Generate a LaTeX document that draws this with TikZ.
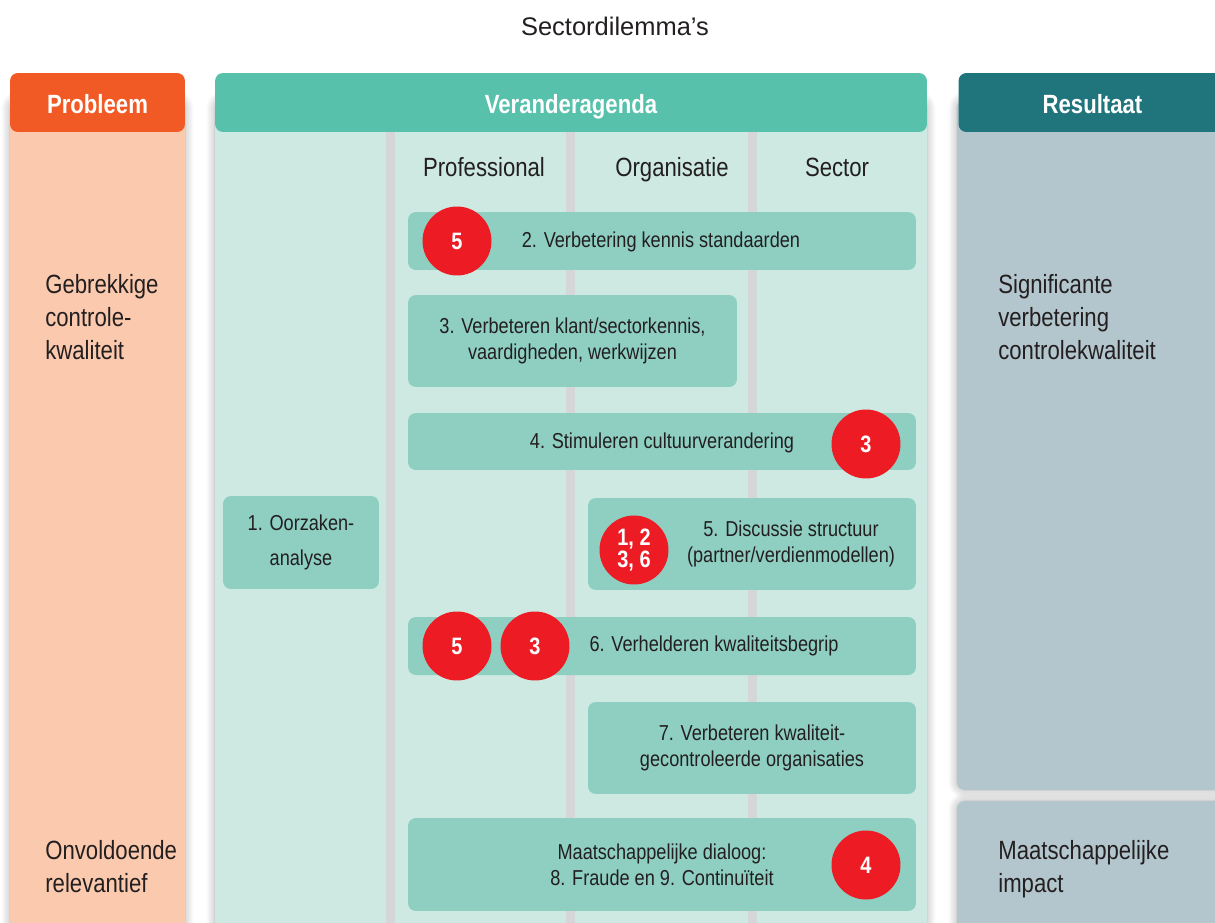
\documentclass[tikz,border=0pt]{standalone}
\usepackage{fontspec}
\setmainfont{Liberation Sans}[FakeStretch=0.84]
\newfontfamily\titlefont{Liberation Sans}
\usetikzlibrary{shadows.blur}
\definecolor{oranje}{HTML}{F15A24}
\definecolor{lichtoranje}{HTML}{FBCAAE}
\definecolor{groen}{HTML}{57C1AC}
\definecolor{lichtgroen}{HTML}{CDE9E1}
\definecolor{middengroen}{HTML}{8ECFC2}
\definecolor{donkerteal}{HTML}{20757D}
\definecolor{blauwgrijs}{HTML}{B4C6CD}
\definecolor{rood}{HTML}{ED1C24}
\definecolor{scheiding}{HTML}{D4D6D8}
\definecolor{tekst}{HTML}{231F20}
\begin{document}
\begin{tikzpicture}[x=0.02cm, y=-0.02cm,
  kolom/.style={rounded corners=4.5pt, blur shadow={shadow blur steps=6, shadow xshift=0pt, shadow yshift=0pt, shadow blur radius=5pt, shadow opacity=35}},
  kop/.style={rounded corners=4.5pt, text=white, font=\bfseries\fontsize{15}{18}\selectfont, minimum height=1.18cm, inner sep=0pt, text height=13pt, text depth=0pt},
  blok/.style={fill=middengroen, rounded corners=4.5pt, inner sep=0pt, align=center, text=tekst, font=\fontsize{12.3}{14.7}\selectfont},
  bloktekst/.style={text=tekst, align=center, inner sep=0pt, font=\fontsize{12.3}{14.7}\selectfont},
  nummer/.style={circle, fill=rood, minimum size=1.38cm, inner sep=0pt, align=center, text=white, font=\bfseries\fontsize{13.5}{13}\selectfont},
  kolomkop/.style={anchor=base, text=tekst, font=\fontsize{15}{18}\selectfont, inner sep=0pt},
  zijtekst/.style={anchor=north west, align=left, inner sep=0pt, text=tekst, font=\fontsize{15}{18.7}\selectfont}]
\useasboundingbox (0,0) rectangle (1215,923);
\clip (0,0) rectangle (1215,923);

% kolommen
\path[kolom, fill=lichtoranje] (10,100) rectangle (185,960);
\path[kolom, fill=lichtgroen] (215,100) rectangle (927,960);
\path[kolom, fill=blauwgrijs] (957,100) rectangle (1240,790);
\path[kolom, fill=blauwgrijs] (957,801) rectangle (1240,960);

% scheidingslijnen
\foreach \x in {386,566,748}
  \fill[scheiding] (\x,132) rectangle (\x+9,960);

% koppen
\node[kop, fill=oranje, minimum width=3.5cm] (probleem) at (97.5,102.5) {Probleem};
\node[kop, fill=groen, minimum width=14.24cm] (agenda) at (571,102.5) {Veranderagenda};
\node[kop, fill=donkerteal, minimum width=5.66cm, text width=5.36cm, align=center] (resultaat) at (1100,102.5) {\hspace*{-0.3cm}Resultaat};
\node[text=tekst, font=\titlefont\fontsize{14.5}{16}\selectfont] (titel) at (615,26) {Sectordilemma’s};

\node[kolomkop] (professional) at (484,176) {Professional};
\node[kolomkop] (organisatie) at (672,176) {Organisatie};
\node[kolomkop] (sector) at (837,176) {Sector};

% blokken
\node[blok, minimum width=10.16cm, minimum height=1.16cm] (b2) at (662,241) {};
\node[bloktekst] (t2) at (661,242) {2. Verbetering kennis standaarden};
\node[blok, minimum width=6.58cm, minimum height=1.84cm] (b3) at (572.5,341) {3. Verbeteren klant/sectorkennis,\\vaardigheden, werkwijzen};
\node[blok, minimum width=10.16cm, minimum height=1.14cm] (b4) at (662,441.5) {};
\node[bloktekst] (t4) at (662,443) {4. Stimuleren cultuurverandering};
\node[blok, minimum width=3.12cm, minimum height=1.86cm, font=\fontsize{12.3}{19.5}\selectfont] (b1) at (301,542.5) {1. Oorzaken-\\analyse};
\node[blok, minimum width=6.56cm, minimum height=1.84cm] (b5) at (752,544) {};
\node[bloktekst] (t5) at (791,544) {5. Discussie structuur\\(partner/verdienmodellen)};
\node[blok, minimum width=10.16cm, minimum height=1.16cm] (b6) at (662,646) {};
\node[bloktekst] (t6) at (714,646) {6. Verhelderen kwaliteitsbegrip};
\node[blok, minimum width=6.56cm, minimum height=1.84cm] (b7) at (752,748) {7. Verbeteren kwaliteit-\\gecontroleerde organisaties};
\node[blok, minimum width=10.16cm, minimum height=1.86cm] (b8) at (662,864.5) {Maatschappelijke dialoog:\\8. Fraude en 9. Continuïteit};

% nummers
\node[nummer] (n2) at (457,241) {5};
\node[nummer] (n4) at (866,444) {3};
\node[nummer, font=\bfseries\fontsize{13.5}{13}\selectfont] (n5) at (634,550) {1, 2\\3, 6};
\node[nummer] (n6a) at (457,646) {5};
\node[nummer] (n6b) at (535,646) {3};
\node[nummer] (n8) at (866,865) {4};

% zijteksten
\node[zijtekst] (gebrekkig) at (45,274) {Gebrekkige\\controle-\\kwaliteit};
\node[zijtekst] (onvoldoende) at (45,840) {Onvoldoende\\relevantief};
\node[zijtekst] (significant) at (998,274) {Significante\\verbetering\\controlekwaliteit};
\node[zijtekst] (impact) at (998,840) {Maatschappelijke\\impact};
\end{tikzpicture}
\end{document}
